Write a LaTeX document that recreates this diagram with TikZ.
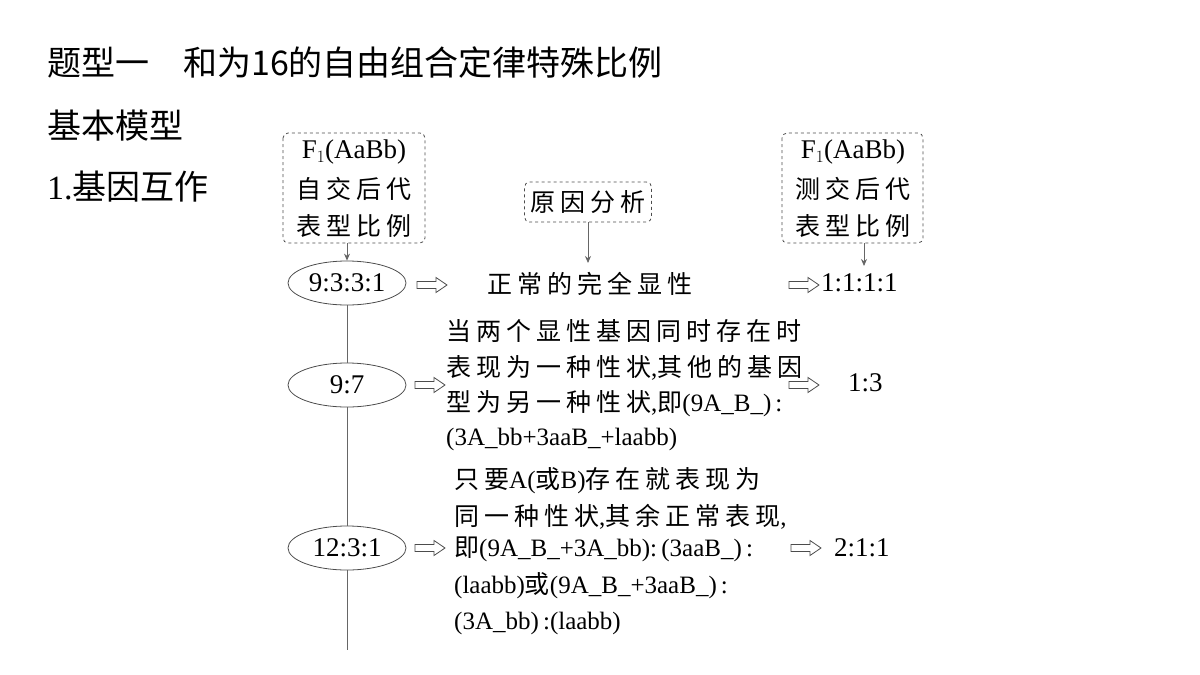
\documentclass[tikz,border=0pt]{standalone}
\usepackage{fontspec}
\setmainfont{Liberation Serif}
\newfontfamily\cjk{Noto Sans CJK SC}
\newfontfamily\cjkw[LetterSpace=20]{Noto Sans CJK SC}
\newcommand\zh[1]{{\cjkw #1}}
\newcommand\harrow[3]{\coordinate (#1) at (#2,#3);
  \draw[draw=black!70,line width=0.8,line join=miter] ([shift={(-15,-3.5)}]#1) -- ([shift={(4,-3.5)}]#1) -- ([shift={(4,-7.5)}]#1) -- ([shift={(15,0)}]#1) -- ([shift={(4,7.5)}]#1) -- ([shift={(4,3.5)}]#1) -- ([shift={(-15,3.5)}]#1) -- cycle;}
\usetikzlibrary{shapes.geometric,arrows.meta}
\begin{document}
\begin{tikzpicture}[x=1pt,y=-1pt,
  t/.style={anchor=west,inner sep=0,font=\fontsize{25}{25}\selectfont},
  dbox/.style={draw=black!70,dashed,rounded corners=5,line width=0.8},
  ell/.style={draw=black!70,ellipse,minimum width=118,minimum height=44,inner sep=0,font=\fontsize{27}{27}\selectfont,line width=0.8},
  con/.style={draw=black!60,line width=0.8},
  ar/.style={con,-{Stealth[length=7,width=6]}}]
\useasboundingbox (0,0) rectangle (1200,675);
\node[anchor=west,inner sep=0,font={\cjk\fontsize{34}{34}\selectfont}] (title) at (47,63) {题型一\hspace{34pt}和为16的自由组合定律特殊比例};
\node[anchor=west,inner sep=0,font={\cjk\fontsize{34}{34}\selectfont}] (sub) at (47,126) {基本模型};
\node[anchor=west,inner sep=0,font={\fontsize{34}{34}\selectfont}] (sub2) at (47,187) {1.{\cjk 基因互作}};
% box 1
\draw[dbox] (283,133) rectangle (425,243);
\node[t,anchor=center] (b1a) at (354,152) {\fontsize{27}{27}\selectfont F$_1$(AaBb)};
\node[t,anchor=center] (b1b) at (354,189) {\zh{自交后代}};
\node[t,anchor=center] (b1c) at (354,226) {\zh{表型比例}};
\coordinate (b1) at (347,243);
% box 3
\draw[dbox] (782,133) rectangle (923,243);
\node[t,anchor=center] (b3a) at (853,152) {\fontsize{27}{27}\selectfont F$_1$(AaBb)};
\node[t,anchor=center] (b3b) at (853,189) {\zh{测交后代}};
\node[t,anchor=center] (b3c) at (853,226) {\zh{表型比例}};
\coordinate (b3) at (864,243);
% box 2
\node[dbox,t,anchor=center,minimum width=127,minimum height=40] (b2) at (588,202) {\zh{原因分析}};
% ellipses
\node[ell] (e1) at (347,283) {9:3:3:1};
\node[ell] (e2) at (347,385) {9:7};
\node[ell] (e3) at (347,548) {12:3:1};
\coordinate (bot) at (347,650);
\draw[ar] (b1) -- (e1.north);
\coordinate (r1) at (588,263);
\draw[ar] (b2.south) -- (r1);
\coordinate (c1) at (864,266);
\draw[ar] (b3) -- (c1);
\draw[con] (e1.south) -- (e2.north) (e2.south) -- (e3.north);
\draw[con] (e3.south) -- (bot);
% row 1
\harrow{h1}{432}{285}
\node[t,anchor=center] (n1) at (590,284) {\zh{正常的完全显性}};
\harrow{h1b}{804}{285}
\node[t,font=\fontsize{27}{27}\selectfont] (s1) at (821,283) {1:1:1:1};
% row 2
\harrow{h2}{430}{385}
\node[t] (l21) at (446,331) {\zh{当两个显性基因同时存在时}};
\node[t] (l22) at (446,368) {\zh{表现为一种性状},\zh{其他的基因}};
\node[t] (l23) at (446,404) {\zh{型为另一种性状},\zh{即}(9A\_B\_)\,:};
\node[t] (l24) at (446,439) {(3A\_bb+3aaB\_+laabb)};
\harrow{h2b}{804}{385}
\node[t,font=\fontsize{27}{27}\selectfont] (s2) at (848,383) {1:3};
% row 3
\harrow{h3}{430}{548}
\node[t] (l31) at (454,481) {\zh{只要}A(\zh{或}B)\zh{存在就表现为}};
\node[t] (l32) at (454,517) {\zh{同一种性状},\zh{其余正常表现},};
\node[t] (l33) at (454,549) {\zh{即}(9A\_B\_+3A\_bb):\,(3aaB\_)\,:};
\node[t] (l34) at (454,586) {(laabb)\zh{或}(9A\_B\_+3aaB\_)\,:};
\node[t] (l35) at (454,623) {(3A\_bb)\,:(laabb)};
\harrow{h3b}{806}{548}
\node[t,font=\fontsize{27}{27}\selectfont] (s3) at (834,548) {2:1:1};
\end{tikzpicture}
\end{document}
